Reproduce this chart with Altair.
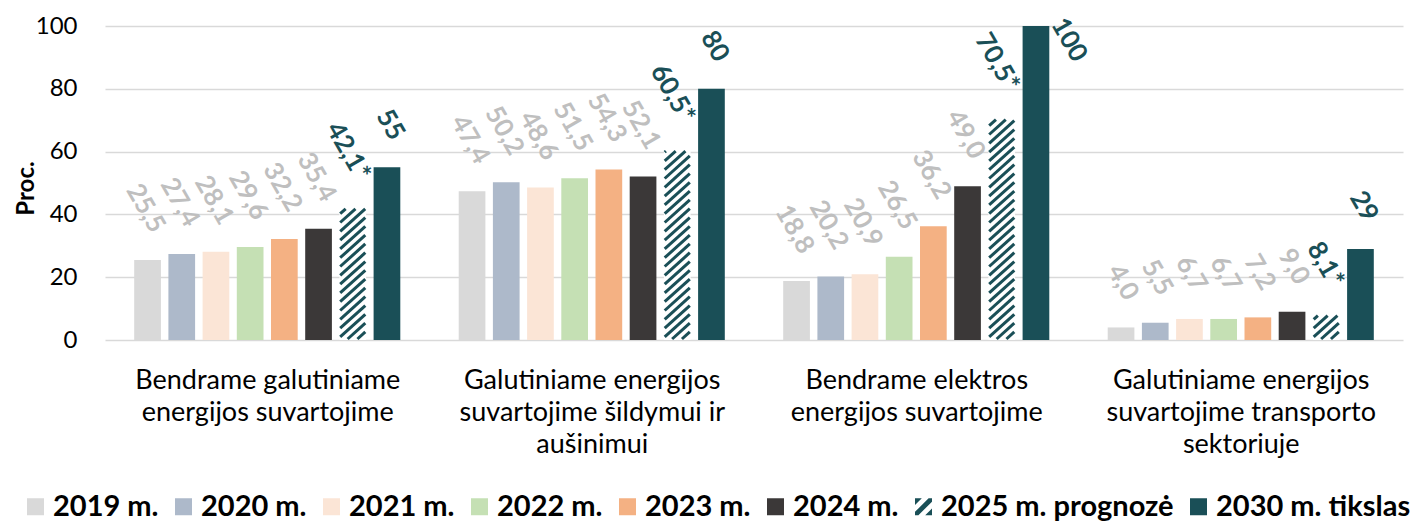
import json
import altair as alt
import pandas as pd

# ---------------- data ----------------
categories = [
    ["Bendrame galutiniame", "energijos suvartojime"],
    ["Galutiniame energijos", "suvartojime šildymui ir", "aušinimui"],
    ["Bendrame elektros", "energijos suvartojime"],
    ["Galutiniame energijos", "suvartojime transporto", "sektoriuje"],
]
series = ["2019 m.", "2020 m.", "2021 m.", "2022 m.", "2023 m.", "2024 m.",
          "2025 m. prognozė", "2030 m. tikslas"]
v2019 = [25.5, 47.4, 18.8, 4.0]
v2020 = [27.4, 50.2, 20.2, 5.5]
v2021 = [28.1, 48.6, 20.9, 6.7]
v2022 = [29.6, 51.5, 26.5, 6.7]
v2023 = [32.2, 54.3, 36.2, 7.2]
v2024 = [35.4, 52.1, 49.0, 9.0]
v2025 = [42.1, 60.5, 70.5, 8.1]
v2030 = [55, 80, 100, 29]
y_ticks = [0, 20, 40, 60, 80, 100]

colors = ["#D9D9D9", "#ADB9CA", "#FBE5D6", "#C5E0B4", "#F4B183", "#3B3838",
          "#1A4F57", "#1A4F57"]
TEAL = "#1A4F57"
GRAY = "#BFBFBF"
HATCH_SHAPE = ("M-1,0.6L0.6,-1L1,-1L1,-0.6L-0.6,1L-1,1Z"
               "M-1,-0.2L-0.2,-1L-1,-1Z"
               "M1,0.2L0.2,1L1,1Z")
shapes = ["square"] * 6 + [HATCH_SHAPE, "square"]

all_values = [v2019, v2020, v2021, v2022, v2023, v2024, v2025, v2030]
rows = []
for si, (name, vals) in enumerate(zip(series, all_values)):
    for ci, v in enumerate(vals):
        if si < 6:
            lab = f"{v:.1f}".replace(".", ",")
        elif si == 6:
            lab = f"{v:.1f}".replace(".", ",") + "*"
        else:
            lab = f"{v:g}"
        rows.append({"ci": ci, "si": si, "series": name, "value": v, "label": lab})
df = pd.DataFrame(rows)

# ---------------- layout constants ----------------
W, H = 1298, 314
KX = W / 4.0          # px per category unit
KY = H / 100.0        # px per percent
STEP = 34.2           # px between bars in a group
BAR = 26.7            # bar width px
R = 0.9               # hatch slope
D = 8.8               # hatch vertical period px
E, EY = 0.8, 1.0      # hatch inset px

xc_expr = f"datum.ci + (datum.si - 3.5) * {STEP / KX}"
xl_expr = f"datum.xc - {BAR / 2 / KX}"
xr_expr = f"datum.xc + {BAR / 2 / KX}"

FONT = "Lato"
xscale = alt.Scale(domain=[-0.5, 3.5], nice=False, zero=False)
yscale = alt.Scale(domain=[0, 100], nice=False)
label_expr = json.dumps(categories, ensure_ascii=False) + "[datum.value]"
xaxis = alt.Axis(values=[0, 1, 2, 3], labelExpr=label_expr, grid=False,
                 domain=False, ticks=False, tickSize=0, title=None,
                 labelFont=FONT, labelFontSize=27, labelColor="black",
                 labelPadding=27, labelLineHeight=32, labelAlign="center",
                 labelBaseline="top", labelOverlap=False, labelFlush=False,
                 labelLimit=500)
yaxis = alt.Axis(values=y_ticks, grid=True, gridColor="#D9D9D9", gridWidth=1.5,
                 domain=False, ticks=False, tickSize=0, labelPadding=28,
                 labelFont=FONT, labelFontSize=24, labelColor="black",
                 title="Proc.", titleFont=FONT, titleFontSize=24,
                 titleFontWeight="bold", titleColor="black", titleAngle=270,
                 titleX=-72, titleY=162, titleBaseline="alphabetic",
                 titleAlign="center")

cscale = alt.Scale(domain=series, range=colors)
sscale = alt.Scale(domain=series, range=shapes)

base = alt.Chart(df).transform_calculate(xc=xc_expr, xl=xl_expr, xr=xr_expr)

bars = base.mark_rect(opacity=1).encode(
    x=alt.X("xl:Q", scale=xscale, axis=xaxis),
    x2="xr:Q",
    y=alt.Y("value:Q", scale=yscale, axis=yaxis),
    y2=alt.datum(0),
    color=alt.condition("datum.si == 6", alt.value("white"),
                        alt.Color("series:N", scale=cscale, legend=None)),
)

hatch = base.transform_filter("datum.si == 6").transform_calculate(
    hp=f"datum.value * {KY}"
).transform_calculate(
    b=f"sequence({-BAR * R}, datum.hp, {D})"
).transform_flatten(["b"]).transform_calculate(
    X0=f"max({E}, ({EY} - datum.b) / {R})"
).transform_calculate(
    X1=f"min({BAR - E}, (datum.hp - {EY} - datum.b) / {R})"
).transform_filter("datum.X1 > datum.X0 + 0.3").transform_calculate(
    hx=f"datum.xl + datum.X0 / {KX}",
    hx2=f"datum.xl + datum.X1 / {KX}",
    hy=f"(datum.b + datum.X0 * {R}) / {KY}",
    hy2=f"(datum.b + datum.X1 * {R}) / {KY}",
).mark_rule(color=TEAL, strokeWidth=3.0, opacity=1).encode(
    x=alt.X("hx:Q", scale=xscale, axis=xaxis),
    x2="hx2:Q",
    y=alt.Y("hy:Q", scale=yscale, axis=yaxis),
    y2="hy2:Q",
)

label_color = alt.condition("datum.si >= 6", alt.value(TEAL), alt.value(GRAY))

labels = base.transform_filter("datum.value <= 90").mark_text(
    angle=60, align="right", baseline="middle", dx=-20, dy=-24,
    font=FONT, fontSize=26, fontWeight="bold", opacity=1
).encode(
    x=alt.X("xc:Q", scale=xscale, axis=xaxis),
    y=alt.Y("value:Q", scale=yscale, axis=yaxis),
    text="label:N",
    color=label_color,
)

labels_top = base.transform_filter("datum.value > 90").mark_text(
    angle=60, align="center", baseline="middle", dx=28.6, dy=-21.6,
    font=FONT, fontSize=26, fontWeight="bold", opacity=1
).encode(
    x=alt.X("xc:Q", scale=xscale, axis=xaxis),
    y=alt.Y("value:Q", scale=yscale, axis=yaxis),
    text="label:N",
    color=label_color,
)

leg = alt.Legend(orient="none", legendX=-84, legendY=466, direction="horizontal",
                 columns=8, columnPadding=10, labelOffset=3, symbolSize=289,
                 symbolStrokeWidth=0, symbolOpacity=1, labelFont=FONT,
                 labelFontSize=29, labelFontWeight="bold", labelColor="black",
                 labelLimit=400, title=None, padding=0)

legend_layer = base.transform_filter("false").mark_point(
    filled=True, opacity=1
).encode(
    x=alt.X("xc:Q", scale=xscale, axis=xaxis),
    y=alt.Y("value:Q", scale=yscale, axis=yaxis),
    color=alt.Color("series:N", scale=cscale, legend=leg),
    shape=alt.Shape("series:N", scale=sscale, legend=leg),
)

chart = alt.layer(bars, hatch, labels, labels_top, legend_layer).resolve_scale(
    color="independent", shape="independent"
).properties(
    width=W, height=H, autosize="none",
    padding={"left": 97, "top": 18, "right": 13, "bottom": 182},
).configure_view(stroke=None)

chart.save("out.html", embed_options={"renderer": "svg", "actions": False})
